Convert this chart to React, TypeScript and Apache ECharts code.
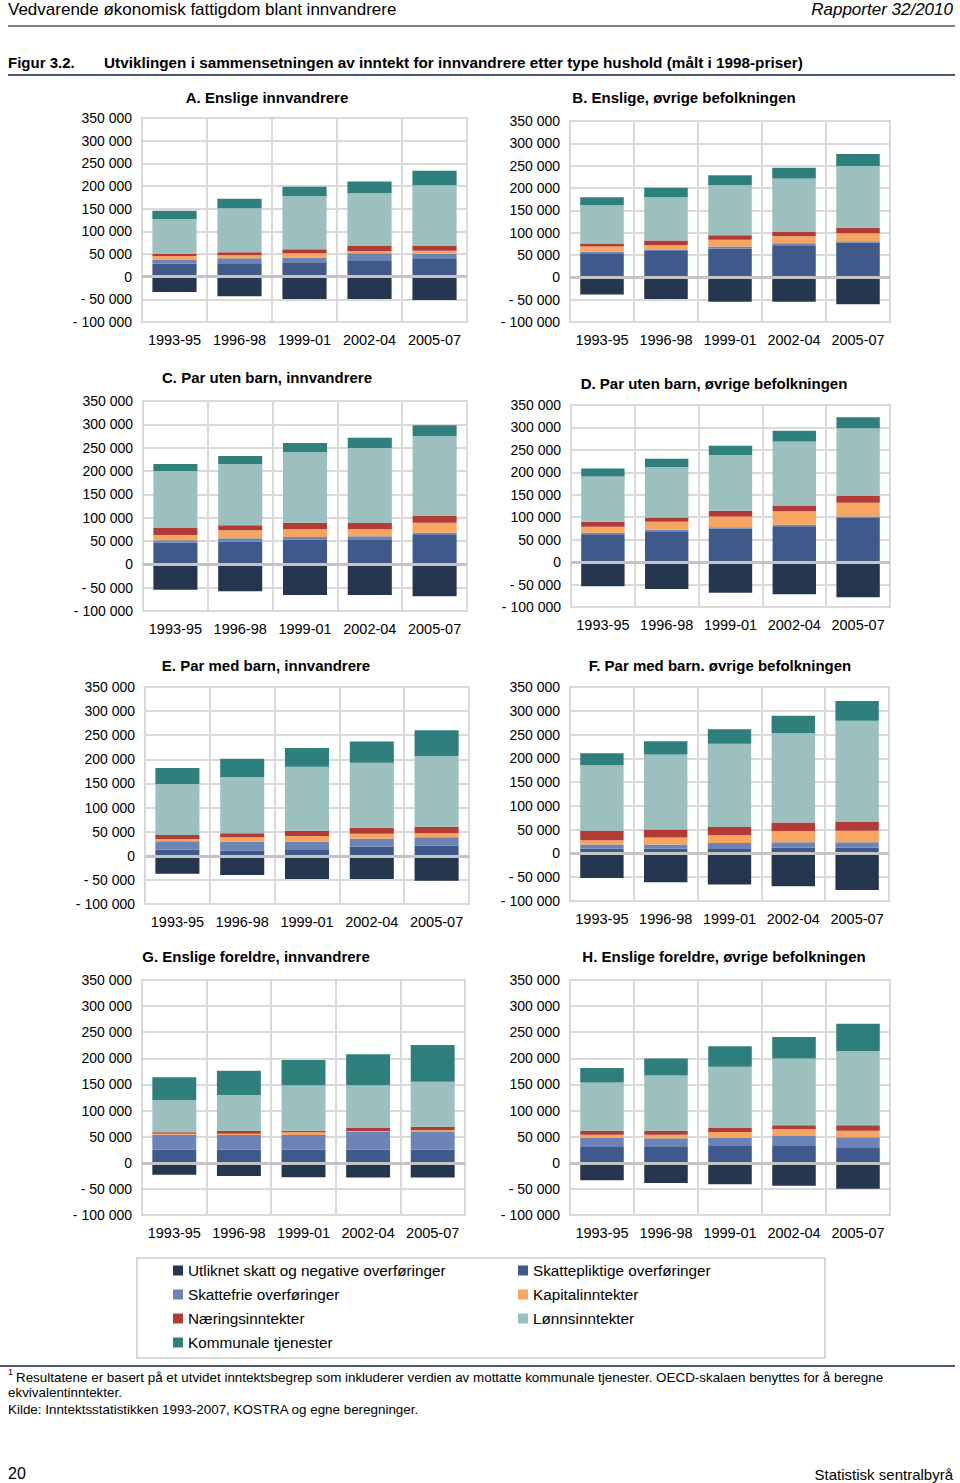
import React, { useEffect, useRef } from "react";
import * as echarts from "echarts";

const categories = ["1993-95", "1996-98", "1999-01", "2002-04", "2005-07"];

const panelTitles = [
  "A. Enslige innvandrere",
  "B. Enslige, øvrige befolkningen",
  "C. Par uten barn, innvandrere",
  "D. Par uten barn, øvrige befolkningen",
  "E. Par med barn, innvandrere",
  "F. Par med barn. øvrige befolkningen",
  "G. Enslige foreldre, innvandrere",
  "H. Enslige foreldre, øvrige befolkningen",
];

const seriesNames = [
  "Utliknet skatt og negative overføringer",
  "Skattepliktige overføringer",
  "Skattefrie overføringer",
  "Kapitalinntekter",
  "Næringsinntekter",
  "Lønnsinntekter",
  "Kommunale tjenester",
];

// one row per panel (A..H), one value per period
const utliknet = [
  [-34000, -43000, -49000, -49000, -51500],
  [-38700, -48400, -54400, -54400, -60400],
  [-54300, -57900, -65700, -65700, -68600],
  [-53900, -59800, -68000, -71700, -78400],
  [-37100, -39900, -48200, -48200, -51600],
  [-51500, -60600, -65500, -69000, -76800],
  [-22800, -25300, -27900, -28000, -28000],
  [-33600, -38700, -41300, -43900, -49600],
];
const skattepliktige = [
  [28700, 27900, 31600, 36000, 40400],
  [54000, 59200, 64400, 72000, 77900],
  [46400, 48600, 52900, 52100, 62900],
  [62200, 68900, 74100, 80000, 99400],
  [12700, 10600, 13300, 18900, 20900],
  [10400, 10400, 11100, 12500, 12500],
  [25100, 25100, 25100, 25100, 25100],
  [30300, 30300, 33500, 33500, 28300],
];
const skattefrie = [
  [9300, 13000, 10400, 15500, 10300],
  [3000, 2200, 4500, 4400, 3000],
  [5000, 7100, 5700, 7900, 5000],
  [3000, 3000, 3700, 3000, 2200],
  [17300, 18600, 15900, 16600, 17300],
  [8400, 8400, 10600, 11300, 11300],
  [28700, 28100, 28100, 33900, 33800],
  [17800, 16500, 14600, 17800, 20400],
];
const kapital = [
  [7600, 6600, 9500, 5100, 6700],
  [11900, 10600, 15000, 15600, 17900],
  [11500, 17200, 16400, 15000, 21400],
  [13400, 17800, 23800, 30500, 30500],
  [4800, 9000, 11800, 10300, 8300],
  [9200, 14800, 16800, 23200, 23900],
  [1900, 2500, 5100, 1900, 3200],
  [5700, 7000, 10800, 12700, 12800],
];
const naering = [
  [4400, 6600, 8800, 12400, 11600],
  [6700, 10400, 10400, 10600, 12000],
  [15000, 10700, 14300, 13600, 14300],
  [11100, 9700, 12600, 12700, 14900],
  [8300, 8300, 11000, 12400, 13800],
  [19700, 16900, 16900, 18200, 19700],
  [2600, 5800, 3200, 5900, 7000],
  [7700, 7700, 7700, 7700, 10200],
];
const lonn = [
  [77000, 97000, 117700, 115000, 132500],
  [86000, 97000, 112000, 118800, 138200],
  [122000, 131400, 151400, 160700, 171400],
  [101200, 112300, 124300, 142700, 151000],
  [105800, 116100, 132800, 134700, 146600],
  [137800, 157500, 175100, 187800, 211500],
  [61900, 68300, 86800, 81700, 86200],
  [92000, 105400, 117500, 127800, 142400],
];
const kommunale = [
  [18600, 20500, 20500, 26000, 32300],
  [17900, 21000, 22000, 23900, 27000],
  [15000, 17100, 19300, 22100, 22900],
  [17800, 18600, 20800, 23800, 24500],
  [33100, 38800, 38700, 44300, 53200],
  [25300, 28100, 30900, 36500, 41500],
  [43400, 46600, 48500, 59300, 70100],
  [28100, 32600, 39000, 41300, 52300],
];

const yMin = -100000;
const yMax = 350000;
const yStep = 50000;

const colors = ["#26364f", "#3f5a8a", "#6c84b5", "#f6a660", "#b23b36", "#9cc0be", "#2f7f7c"];

// layout of the eight plot areas (left, top, width, height) and title centres
const layout = [
  { l: 142, t: 118, w: 325, h: 204, tx: 267, ty: 97 },
  { l: 570, t: 121, w: 320, h: 201, tx: 684, ty: 97 },
  { l: 143, t: 401, w: 324, h: 210, tx: 267, ty: 377 },
  { l: 571, t: 405, w: 319, h: 202, tx: 714, ty: 383 },
  { l: 145, t: 687, w: 324, h: 217, tx: 266, ty: 665 },
  { l: 570, t: 687, w: 319, h: 214, tx: 720, ty: 665 },
  { l: 142, t: 980, w: 323, h: 235, tx: 256, ty: 956 },
  { l: 570, t: 980, w: 320, h: 235, tx: 724, ty: 956 },
];

const FONT = "'Liberation Sans', Arial, sans-serif";
const GRIDC = "#d9d9d9";

function fmt(v: number): string {
  if (v === 0) return "0";
  const s = String(Math.abs(v)).replace(/\B(?=(\d{3})+(?!\d))/g, " ");
  return (v < 0 ? "- " : "") + s;
}

export default function App() {
  const ref = useRef<HTMLDivElement>(null);
  useEffect(() => {
    document.body.style.margin = "0";
    if (!ref.current) return;
    const chart = echarts.init(ref.current, undefined, { renderer: "svg" });
    const all = [utliknet, skattepliktige, skattefrie, kapital, naering, lonn, kommunale];

    const grid: any[] = [];
    const xAxis: any[] = [];
    const yAxis: any[] = [];
    const series: any[] = [];
    const graphic: any[] = [];

    layout.forEach((g, gi) => {
      grid.push({
        left: g.l, top: g.t, width: g.w, height: g.h,
        show: true, borderColor: GRIDC, borderWidth: 2, backgroundColor: "#fff",
        containLabel: false,
      });
      xAxis.push({
        type: "category", gridIndex: gi, data: categories,
        axisLine: { show: false, onZero: false }, axisTick: { show: false },
        axisLabel: { interval: 0, hideOverlap: false, fontSize: 14.5, color: "#000", fontFamily: FONT, margin: 10 },
        splitLine: { show: true, interval: 0, lineStyle: { color: GRIDC, width: 2 } },
      });
      yAxis.push({
        type: "value", gridIndex: gi, min: yMin, max: yMax, interval: yStep,
        axisLine: { show: false }, axisTick: { show: false },
        axisLabel: { fontSize: 14, color: "#000", fontFamily: FONT, margin: 10, formatter: fmt },
        splitLine: { show: true, lineStyle: { color: GRIDC, width: 2 } },
      });
      all.forEach((arr, si) => {
        const s: any = {
          type: "bar", name: seriesNames[si], xAxisIndex: gi, yAxisIndex: gi,
          stack: "p" + gi, data: arr[gi], barCategoryGap: "32%",
          itemStyle: { color: colors[si] }, silent: true,
        };
        if (si === all.length - 1) {
          s.markLine = {
            silent: true, symbol: ["none", "none"], label: { show: false },
            lineStyle: { color: "#c4c4c4", width: 3, type: "solid" },
            data: [{ yAxis: 0 }],
          };
        }
        series.push(s);
      });
      graphic.push({
        type: "text", x: g.tx, y: g.ty,
        style: {
          text: panelTitles[gi], fontSize: 15, fontWeight: "bold", fontFamily: FONT,
          fill: "#000", textAlign: "center", textVerticalAlign: "middle",
        },
      });
    });

    // page header / footer
    graphic.push(
      { type: "text", x: 8, y: 9, style: { text: "Vedvarende økonomisk fattigdom blant innvandrere", fontSize: 17, fontFamily: FONT, fill: "#000", textVerticalAlign: "middle" } },
      { type: "text", x: 953, y: 9, style: { text: "Rapporter 32/2010", fontSize: 17, fontStyle: "italic", fontFamily: FONT, fill: "#000", textAlign: "right", textVerticalAlign: "middle" } },
      { type: "line", shape: { x1: 8, y1: 26, x2: 955, y2: 26 }, style: { stroke: "#000", lineWidth: 1 } },
      { type: "text", x: 8, y: 62, style: { text: "Figur 3.2.", fontSize: 15, fontWeight: "bold", fontFamily: FONT, fill: "#000", textVerticalAlign: "middle" } },
      { type: "text", x: 104, y: 62, style: { text: "Utviklingen i sammensetningen av inntekt for innvandrere etter type hushold (målt i 1998-priser)", fontSize: 15.3, fontWeight: "bold", fontFamily: FONT, fill: "#000", textVerticalAlign: "middle" } },
      { type: "line", shape: { x1: 8, y1: 75, x2: 955, y2: 75 }, style: { stroke: "#4a5878", lineWidth: 2 } },
      { type: "rect", shape: { x: 137, y: 1258, width: 688, height: 100 }, style: { fill: "none", stroke: GRIDC, lineWidth: 2 } },
      { type: "line", shape: { x1: 0, y1: 1366, x2: 955, y2: 1366 }, style: { stroke: "#4a5878", lineWidth: 2 } },
      { type: "text", x: 8, y: 1372, style: { text: "1", fontSize: 9, fontFamily: FONT, fill: "#000", textVerticalAlign: "middle" } },
      { type: "text", x: 16, y: 1377, style: { text: "Resultatene er basert på et utvidet inntektsbegrep som inkluderer verdien av mottatte kommunale tjenester. OECD-skalaen benyttes for å beregne", fontSize: 13.4, fontFamily: FONT, fill: "#000", textVerticalAlign: "middle" } },
      { type: "text", x: 8, y: 1392, style: { text: "ekvivalentinntekter.", fontSize: 13.4, fontFamily: FONT, fill: "#000", textVerticalAlign: "middle" } },
      { type: "text", x: 8, y: 1409, style: { text: "Kilde: Inntektsstatistikken 1993-2007, KOSTRA og egne beregninger.", fontSize: 13.4, fontFamily: FONT, fill: "#000", textVerticalAlign: "middle" } },
      { type: "text", x: 8, y: 1473, style: { text: "20", fontSize: 16, fontFamily: FONT, fill: "#000", textVerticalAlign: "middle" } },
      { type: "text", x: 953, y: 1474, style: { text: "Statistisk sentralbyrå", fontSize: 15, fontFamily: FONT, fill: "#000", textAlign: "right", textVerticalAlign: "middle" } },
    );

    const legendBase = {
      orient: "vertical", icon: "rect", itemWidth: 10, itemHeight: 10, itemGap: 9,
      selectedMode: false, top: 1263, padding: 0,
      textStyle: { fontSize: 15.3, color: "#000", fontFamily: FONT },
    };

    chart.setOption({
      animation: false,
      textStyle: { fontFamily: FONT },
      backgroundColor: "#fff",
      grid, xAxis, yAxis, series, graphic,
      legend: [
        { ...legendBase, left: 173, data: [seriesNames[0], seriesNames[2], seriesNames[4], seriesNames[6]] },
        { ...legendBase, left: 518, data: [seriesNames[1], seriesNames[3], seriesNames[5]] },
      ],
    });
    return () => chart.dispose();
  }, []);
  return <div ref={ref} style={{ width: 960, height: 1483 }} />;
}
